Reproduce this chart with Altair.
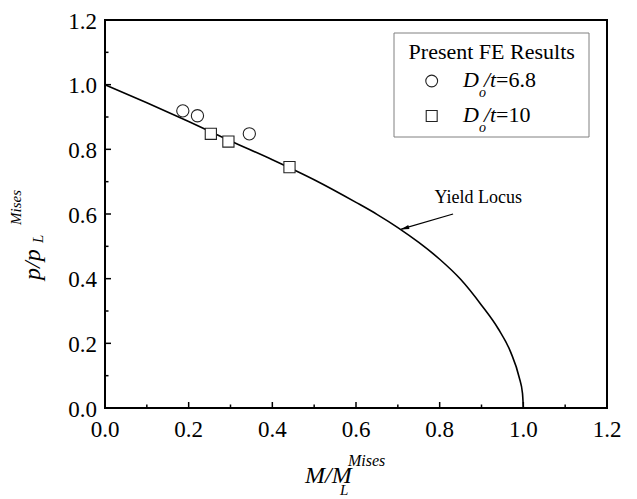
import altair as alt
import pandas as pd

# ---- data ----
M_curve = [0.0, 0.1, 0.2, 0.3, 0.4, 0.5, 0.6, 0.65, 0.7, 0.75, 0.8,
           0.85, 0.9, 0.94, 0.97, 0.99, 0.998, 1.0]
p_curve = [1.0, 0.944, 0.886, 0.826, 0.768, 0.706, 0.636, 0.599, 0.558, 0.512, 0.460,
           0.398, 0.318, 0.245, 0.172, 0.095, 0.045, 0.0]

d68_M = [0.186, 0.221, 0.345]
d68_p = [0.919, 0.904, 0.848]
d10_M = [0.253, 0.295, 0.441]
d10_p = [0.848, 0.824, 0.745]

major_ticks = [0.0, 0.2, 0.4, 0.6, 0.8, 1.0, 1.2]
tick_labels = ["0.0", "0.2", "0.4", "0.6", "0.8", "1.0", "1.2"]
minor_ticks = [0.1, 0.3, 0.5, 0.7, 0.9, 1.1]

arrow_from = [0.832, 0.600]
arrow_to = [0.708, 0.553]
arrow_head = [0.7167, 0.556]
label_pos = [0.892, 0.634]

FONT = "Liberation Serif"
W, H = 502, 388

curve_df = pd.DataFrame({"x": M_curve, "y": p_curve})
d68_df = pd.DataFrame({"x": d68_M, "y": d68_p})
d10_df = pd.DataFrame({"x": d10_M, "y": d10_p})
maj_df = pd.DataFrame({"x": major_ticks, "y": major_ticks, "t": tick_labels})
min_df = pd.DataFrame({"x": minor_ticks, "y": minor_ticks})
arrow_df = pd.DataFrame({"x": [arrow_from[0]], "y": [arrow_from[1]],
                         "x2": [arrow_to[0]], "y2": [arrow_to[1]]})
head_df = pd.DataFrame({"x": [arrow_head[0]], "y": [arrow_head[1]]})
lab_df = pd.DataFrame({"x": [label_pos[0]], "y": [label_pos[1]], "t": ["Yield Locus"]})
one = pd.DataFrame({"a": [0]})

xs = alt.Scale(domain=[0, 1.2], nice=False, zero=False)
ys = alt.Scale(domain=[0, 1.2], nice=False, zero=False)

X = alt.X("x:Q", scale=xs, axis=None)
Y = alt.Y("y:Q", scale=ys, axis=None)

curve = alt.Chart(curve_df).mark_line(color="black", strokeWidth=1.6,
                                      interpolate="monotone").encode(x=X, y=Y, order="x:Q")

pts68 = alt.Chart(d68_df).mark_point(shape="circle", filled=True, fill="white", stroke="#222",
                                      strokeWidth=1.1, size=150, opacity=1).encode(x=X, y=Y)
pts10 = alt.Chart(d10_df).mark_point(shape="square", filled=True, fill="white", stroke="#222",
                                      strokeWidth=1.1, size=125, opacity=1).encode(x=X, y=Y)

shaft = alt.Chart(arrow_df).mark_rule(color="black", strokeWidth=1.3).encode(
    x=X, y=Y, x2="x2:Q", y2="y2:Q")
head = alt.Chart(head_df).mark_point(shape="M0,-1L0.5,1L-0.5,1Z", filled=True, color="black",
                                     size=70, angle=253.6, opacity=1).encode(x=X, y=Y)
ylabel = alt.Chart(lab_df).mark_text(font=FONT, fontSize=18, color="black", align="center",
                                     baseline="alphabetic").encode(x=X, y=Y, text="t:N")

# inward ticks
xt_major = alt.Chart(maj_df).mark_rule(color="black", strokeWidth=1.5).encode(
    x=X, y=alt.value(H), y2=alt.value(H - 6))
xt_minor = alt.Chart(min_df).mark_rule(color="black", strokeWidth=1.5).encode(
    x=X, y=alt.value(H), y2=alt.value(H - 3.5))
yt_major = alt.Chart(maj_df).mark_rule(color="black", strokeWidth=1.5).encode(
    y=Y, x=alt.value(0), x2=alt.value(6))
yt_minor = alt.Chart(min_df).mark_rule(color="black", strokeWidth=1.5).encode(
    y=Y, x=alt.value(0), x2=alt.value(3.5))

# tick labels
x_lab = alt.Chart(maj_df).mark_text(font=FONT, fontSize=23, color="black", align="center",
                                    baseline="alphabetic").encode(
    x=X, y=alt.value(H + 29), text="t:N")
y_lab = alt.Chart(maj_df).mark_text(font=FONT, fontSize=23, color="black", align="right",
                                    baseline="alphabetic", dy=8.5).encode(
    y=Y, x=alt.value(-8), text="t:N")


def txt(s, x, y, size=22, italic=False, align="left", angle=None):
    kw = dict(text=s, font=FONT, fontSize=size, color="black", align=align,
              baseline="alphabetic")
    if italic:
        kw["fontStyle"] = "italic"
    if angle is not None:
        kw["angle"] = angle
    return alt.Chart(one).mark_text(**kw).encode(x=alt.value(x), y=alt.value(y))


# legend
leg_box = alt.Chart(one).mark_rect(fill="white", stroke="#808080", strokeWidth=1).encode(
    x=alt.value(289), x2=alt.value(484), y=alt.value(13), y2=alt.value(117))
leg_c = alt.Chart(one).mark_point(shape="circle", filled=True, fill="white", stroke="#222",
                                  strokeWidth=1.1, size=140, opacity=1).encode(
    x=alt.value(326.7), y=alt.value(61))
leg_s = alt.Chart(one).mark_point(shape="square", filled=True, fill="white", stroke="#222",
                                  strokeWidth=1.1, size=120, opacity=1).encode(
    x=alt.value(326.7), y=alt.value(96))
legend = [
    leg_box,
    txt("Present FE Results", 386.7, 39, 22, align="center"),
    leg_c, leg_s,
    txt("D", 358, 67, 22, True), txt("o", 374, 77, 14, True),
    txt("/t", 379, 67, 22, True), txt("=6.8", 391, 67, 22),
    txt("D", 358, 102, 22, True), txt("o", 374, 112, 14, True),
    txt("/t", 379, 102, 22, True), txt("=10", 391, 102, 22),
]

# axis titles
titles = [
    txt("M/M", 200, 463, 24, True),
    txt("L", 235, 475, 15, True),
    txt("Mises", 243, 446, 16, True),
    txt("p/p", -65, 260, 24, True, angle=270),
    txt("L", -62, 223, 15, True, angle=270),
    txt("Mises", -84, 205, 15, True, angle=270),
]

chart = alt.layer(
    curve, shaft, head, ylabel, pts68, pts10,
    xt_major, xt_minor, yt_major, yt_minor, x_lab, y_lab,
    *legend, *titles
).properties(
    width=W, height=H,
    autosize=alt.AutoSizeParams(type="none"),
    padding={"left": 97, "top": 12, "right": 22, "bottom": 90},
    background="white",
).configure_view(stroke="black", strokeWidth=2)

chart.save("out.html", embed_options={"renderer": "svg", "actions": False})
